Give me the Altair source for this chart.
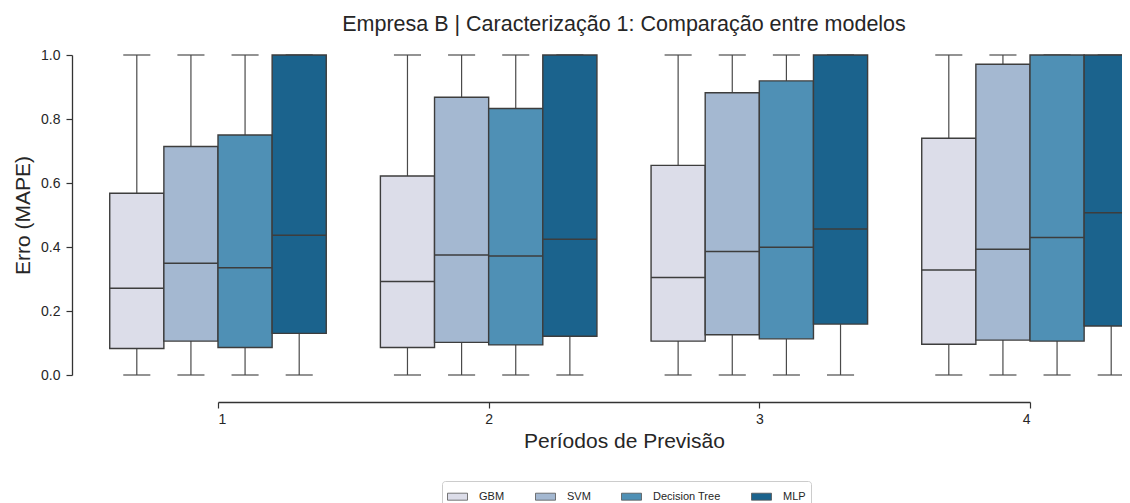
import altair as alt
import pandas as pd

# ---------------- data ----------------
periods = [1, 2, 3, 4]
models = ["GBM", "SVM", "Decision Tree", "MLP"]
colors = ["#dcdde9", "#a4b8d1", "#4f90b5", "#1b638d"]

# per period: values for GBM, SVM, Decision Tree, MLP
q1_p1 = [0.083, 0.106, 0.086, 0.130]
q1_p2 = [0.086, 0.102, 0.094, 0.121]
q1_p3 = [0.106, 0.126, 0.113, 0.159]
q1_p4 = [0.096, 0.109, 0.106, 0.153]

med_p1 = [0.271, 0.349, 0.335, 0.437]
med_p2 = [0.292, 0.375, 0.372, 0.424]
med_p3 = [0.305, 0.386, 0.399, 0.456]
med_p4 = [0.328, 0.393, 0.430, 0.507]

q3_p1 = [0.568, 0.714, 0.750, 1.000]
q3_p2 = [0.622, 0.868, 0.833, 1.000]
q3_p3 = [0.655, 0.882, 0.919, 1.000]
q3_p4 = [0.740, 0.971, 1.000, 1.000]

lo_all = [0.0, 0.0, 0.0, 0.0]
hi_all = [1.0, 1.0, 1.0, 1.0]

q1_tab = [q1_p1, q1_p2, q1_p3, q1_p4]
med_tab = [med_p1, med_p2, med_p3, med_p4]
q3_tab = [q3_p1, q3_p2, q3_p3, q3_p4]

rows = []
for pi, p in enumerate(periods):
    for mi, m in enumerate(models):
        rows.append(dict(period=p, model=m, idx=mi,
                         q1=q1_tab[pi][mi], med=med_tab[pi][mi], q3=q3_tab[pi][mi],
                         lo=lo_all[mi], hi=hi_all[mi]))
df = pd.DataFrame(rows)

FONT = "Liberation Sans"
LINE = "#3d3d3d"
WHISK = "#4a4a4a"

xscale = alt.Scale(domain=[1, 4], range=[146, 958], nice=False, zero=False)
yscale = alt.Scale(domain=[0, 1], range=[325, 5], nice=False, zero=False)

xaxis = alt.Axis(values=periods, format="d", offset=22, grid=False,
                 title="Períodos de Previsão", titleFontSize=21, titleFontWeight="normal",
                 titleColor="#262626", titlePadding=4, labelFontSize=14, labelColor="#262626",
                 labelPadding=4, tickSize=6, tickColor="#333333", domainColor="#333333",
                 domainWidth=1.3, tickWidth=1.2)
yaxis = alt.Axis(values=[0, 0.2, 0.4, 0.6, 0.8, 1.0], format=".1f", grid=False,
                 title="Erro (MAPE)", titleFontSize=21, titleFontWeight="normal",
                 titleColor="#262626", titlePadding=7, labelFontSize=14, labelColor="#262626",
                 labelPadding=6, tickSize=6, tickColor="#333333", domainColor="#333333",
                 domainWidth=1.3, tickWidth=1.2)

base = alt.Chart(df).transform_calculate(
    center="datum.period + (datum.idx - 1.5) * 0.2",
    left="datum.period + (datum.idx - 1.5) * 0.2 - 0.1",
    right="datum.period + (datum.idx - 1.5) * 0.2 + 0.1",
    capl="datum.period + (datum.idx - 1.5) * 0.2 - 0.05",
    capr="datum.period + (datum.idx - 1.5) * 0.2 + 0.05",
)

X = lambda f: alt.X(f, scale=xscale, axis=xaxis)
Y = lambda f: alt.Y(f, scale=yscale, axis=yaxis)

whisk_low = base.mark_rule(color=WHISK, strokeWidth=1.2, clip=True).encode(
    x=X("center:Q"), y=Y("lo:Q"), y2="q1:Q",
)
whisk_high = base.mark_rule(color=WHISK, strokeWidth=1.2, clip=True).encode(
    x=X("center:Q"), y=Y("q3:Q"), y2="hi:Q",
)
cap_low = base.mark_rule(color=WHISK, strokeWidth=1.2, clip=True).encode(
    x=X("capl:Q"), x2="capr:Q", y=Y("lo:Q"),
)
cap_high = base.mark_rule(color=WHISK, strokeWidth=1.2, clip=True).encode(
    x=X("capl:Q"), x2="capr:Q", y=Y("hi:Q"),
)
boxes = base.mark_rect(stroke=LINE, strokeWidth=1.4, opacity=1, clip=True).encode(
    x=X("left:Q"), x2="right:Q",
    y=Y("q1:Q"), y2="q3:Q",
    color=alt.Color("model:N", scale=alt.Scale(domain=models, range=colors),
                    legend=alt.Legend(title=None, orient="none", direction="horizontal",
                                      legendX=370, legendY=431,
                                      symbolType="M-1,-0.35H1V0.35H-1Z", symbolSize=400,
                                      symbolStrokeColor="#555555", symbolStrokeWidth=0.8,
                                      labelFontSize=11, labelColor="#262626", labelOffset=11,
                                      columnPadding=28, padding=5,
                                      strokeColor="#cccccc", cornerRadius=3,
                                      fillColor="white")),
)
medians = base.mark_rule(color=LINE, strokeWidth=1.5, clip=True).encode(
    x=X("left:Q"), x2="right:Q", y=Y("med:Q"),
)

chart = alt.layer(whisk_low, whisk_high, cap_low, cap_high, boxes, medians).properties(
    width=1050, height=330,
    title=alt.TitleParams("Empresa B | Caracterização 1: Comparação entre modelos",
                          fontSize=21.5, fontWeight="normal", color="#262626",
                          anchor="middle", dx=27, offset=13, font=FONT),
    autosize=alt.AutoSizeParams(type="none"),
    padding={"left": 64, "top": 42, "right": 0, "bottom": 123},
).configure(font=FONT).configure_view(stroke=None)

chart.save("out.html", embed_options={"renderer": "svg", "actions": False})
